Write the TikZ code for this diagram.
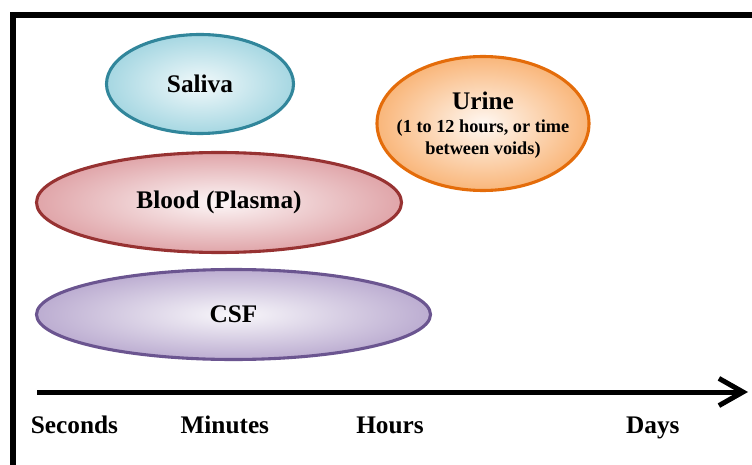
\documentclass[tikz,border=0pt]{standalone}
\usepackage{fontspec}
\setmainfont{Liberation Serif}
\usepackage{xcolor}
\usetikzlibrary{shapes.geometric,arrows.meta}

\definecolor{salivaline}{HTML}{31869B}
\definecolor{salivafill}{HTML}{A6D7E2}
\definecolor{bloodline}{HTML}{973232}
\definecolor{bloodfill}{HTML}{E0A5A9}
\definecolor{csfline}{HTML}{6B5590}
\definecolor{csffill}{HTML}{BCADD1}
\definecolor{urineline}{HTML}{E46C0A}
\definecolor{urinefill}{HTML}{F9B67A}

\begin{document}
\begin{tikzpicture}[
            % estilo de las elipses
            blob/.style={ellipse, line width=2.2pt, inner sep=0pt, align=center,
                font=\fontsize{18}{20}\selectfont\bfseries},
            timelabel/.style={anchor=base, font=\fontsize{18}{20}\selectfont\bfseries},
            axis/.style={draw, line width=0.125cm, -{Straight Barb[length=0.6cm,width=0.68cm]}}
        ]
            \useasboundingbox (0,0) rectangle (18.8,11.6);
            % marco
            \draw[line width=0.15cm] (0.325,-0.1) -- (0.325,11.225) -- (19,11.225);

            \node [blob, draw=salivaline, inner color=salivafill!15, outer color=salivafill,
                minimum width=4.675cm, minimum height=2.475cm] (saliva) at (5.0,9.5) {Saliva};
            \node [blob, draw=bloodline, inner color=bloodfill!10, outer color=bloodfill,
                minimum width=9.125cm, minimum height=2.5cm] (blood) at (5.475,6.5375) {Blood (Plasma)};
            \node [blob, draw=csfline, inner color=csffill!10, outer color=csffill,
                minimum width=9.85cm, minimum height=2.25cm] (csf) at (5.8375,3.7375) {CSF};
            \node [blob, draw=urineline, inner color=urinefill!10, outer color=urinefill,
                minimum width=5.3cm, minimum height=3.35cm] (urine) at (12.075,8.5125) {};
            \node [align=center, inner sep=0pt, font=\fontsize{13}{15.6}\selectfont\bfseries]
                (urinetext) at ([yshift=-0.05cm]urine.center)
                {{\fontsize{18}{20}\selectfont Urine}\\[0.8pt]
                (1 to 12 hours, or time\\between voids)};

            \coordinate (axisstart) at (0.925,1.8);
            \coordinate (axisend) at (18.7,1.8);
            \path [axis] (axisstart) -- (axisend);

            \node [timelabel] (seconds) at (1.86,0.775) {Seconds};
            \node [timelabel] (minutes) at (5.62,0.775) {Minutes};
            \node [timelabel] (hours) at (9.75,0.775) {Hours};
            \node [timelabel] (days) at (16.32,0.775) {Days};
        \end{tikzpicture}
\end{document}
